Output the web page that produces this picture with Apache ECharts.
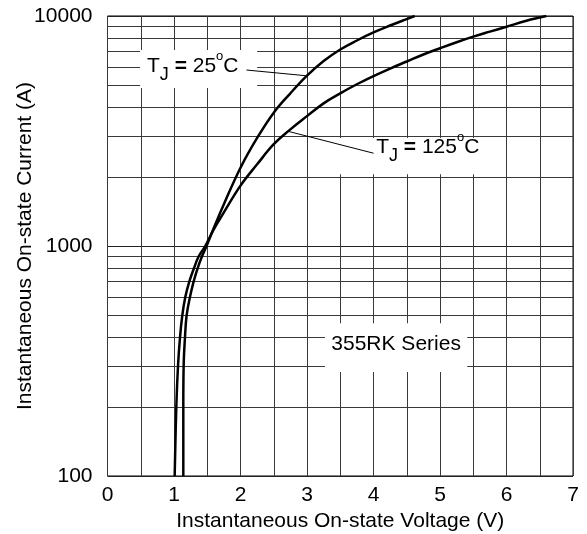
<!DOCTYPE html>
<html>
<head>
<meta charset="utf-8">
<script src="https://cdn.jsdelivr.net/npm/echarts@6/dist/echarts.min.js"></script>
<style>
  html, body { margin: 0; padding: 0; background: #fff; }
  #chart { width: 587px; height: 534px; }
</style>
</head>
<body>
<div id="chart"></div>
<script>
// on-state characteristic
var volt25 = [1.14, 1.14, 1.145, 1.165, 1.19, 1.24, 1.295, 1.355, 1.42, 1.49, 1.6, 1.75, 2.0, 2.25, 2.5, 2.75, 3.0, 3.25, 3.5, 3.75, 4.0, 4.25, 4.5, 4.62];
var amp25 = [100, 200, 300, 400, 500, 600, 700, 800, 900, 1000, 1200, 1520, 2190, 2950, 3800, 4610, 5500, 6370, 7150, 7825, 8480, 9090, 9700, 10000];

var volt125 = [1.01, 1.035, 1.06, 1.09, 1.125, 1.17, 1.23, 1.30, 1.37, 1.47, 1.6, 1.75, 2.0, 2.25, 2.5, 2.75, 3.0, 3.25, 3.5, 3.75, 4.0, 4.25, 4.5, 4.75, 5.0, 5.25, 5.5, 5.75, 6.0, 6.3, 6.6];
var amp125 = [100, 200, 300, 400, 500, 600, 700, 800, 900, 1000, 1185, 1400, 1830, 2265, 2770, 3213, 3670, 4170, 4610, 5050, 5480, 5910, 6340, 6800, 7240, 7690, 8130, 8550, 8980, 9540, 10000];

var xTicks = [0, 1, 2, 3, 4, 5, 6, 7];
var minorCurrent = [200, 300, 400, 500, 600, 700, 800, 900, 2000, 3000, 4000, 5000, 6000, 7000, 8000, 9000];

var FONT = 'Arial, "Liberation Sans", sans-serif';

function pairs(xs, ys) {
  return xs.map(function (x, i) { return [x, ys[i]]; });
}

var chart = echarts.init(document.getElementById('chart'));

chart.setOption({
  animation: false,
  backgroundColor: '#fff',
  grid: {
    left: 107.5,
    right: 14,
    top: 16,
    bottom: 58,
    outerBoundsMode: 'none',
    show: true,
    borderColor: '#000',
    borderWidth: 1
  },
  xAxis: {
    type: 'value',
    min: 0,
    max: 7,
    interval: 0.5,
    name: 'Instantaneous On-state Voltage (V)',
    nameLocation: 'middle',
    nameGap: 35,
    nameMoveOverlap: false,
    nameTextStyle: { color: '#000', fontSize: 21, fontFamily: FONT },
    axisLine: { show: false },
    axisTick: { show: false },
    axisLabel: {
      color: '#000',
      fontSize: 21,
      fontFamily: FONT,
      margin: 9,
      formatter: function (v) {
        return xTicks.indexOf(v) >= 0 ? String(v) : '';
      }
    },
    splitLine: { show: true, lineStyle: { color: '#3a3a3a', width: 1 } }
  },
  yAxis: {
    type: 'log',
    logBase: 10,
    min: 100,
    max: 10000,
    name: 'Instantaneous On-state Current (A)',
    nameLocation: 'middle',
    nameGap: 72,
    nameMoveOverlap: false,
    nameTextStyle: { color: '#000', fontSize: 21, fontFamily: FONT },
    axisLine: { show: false },
    axisTick: { show: false },
    axisLabel: {
      color: '#000',
      fontSize: 21,
      fontFamily: FONT,
      margin: 15,
      formatter: function (v) { return String(Math.round(v)); }
    },
    splitLine: { show: true, lineStyle: { color: '#222', width: 1 } }
  },
  series: [
    {
      // minor log grid lines
      type: 'line',
      data: [[0, 100]],
      symbol: 'none',
      lineStyle: { opacity: 0 },
      silent: true,
      z: 1,
      markLine: {
        silent: true,
        symbol: ['none', 'none'],
        label: { show: false },
        lineStyle: { color: '#3a3a3a', width: 1, type: 'solid' },
        data: minorCurrent.map(function (v) { return { yAxis: v }; })
      }
    },
    {
      name: 'TJ = 25',
      type: 'line',
      data: pairs(volt25, amp25),
      smooth: 0.4,
      showSymbol: false,
      z: 20,
      lineStyle: { color: '#000', width: 2.5 }
    },
    {
      name: 'TJ = 125',
      type: 'line',
      data: pairs(volt125, amp125),
      smooth: 0.4,
      showSymbol: false,
      z: 20,
      lineStyle: { color: '#000', width: 2.5 }
    }
  ]
});

// annotations, anchored in data coordinates
function px(v, a) {
  return chart.convertToPixel({ gridIndex: 0 }, [v, a]);
}

function box(v0, a0, v1, a1) {
  var p = px(v0, a0), q = px(v1, a1);
  return {
    type: 'rect',
    z: 10,
    shape: { x: p[0], y: p[1], width: q[0] - p[0], height: q[1] - p[1] },
    style: { fill: '#fff' }
  };
}

function leader(v0, a0, v1, a1) {
  var p = px(v0, a0), q = px(v1, a1);
  return {
    type: 'line',
    z: 12,
    shape: { x1: p[0], y1: p[1], x2: q[0], y2: q[1] },
    style: { stroke: '#000', lineWidth: 1 }
  };
}

var tjRich = {
  t: { fontSize: 21, fontFamily: FONT, lineHeight: 24, verticalAlign: 'top', padding: [6, 0, 0, 0], color: '#000' },
  eq: { fontSize: 21, fontFamily: FONT, fontWeight: 'bold', lineHeight: 24, verticalAlign: 'top', padding: [6, 0, 0, 0], color: '#000' },
  sub: { fontSize: 18, fontFamily: FONT, lineHeight: 18, verticalAlign: 'top', padding: [16, 0, 0, 0], color: '#000' },
  sup: { fontSize: 13, fontFamily: FONT, lineHeight: 13, verticalAlign: 'top', padding: [0, 0, 0, 0], color: '#000' }
};

function tjLabel(v, a, temp) {
  var p = px(v, a);
  return {
    type: 'text',
    z: 13,
    x: p[0],
    y: p[1],
    style: {
      text: '{t|T}{sub|J}{t| }{eq|=}{t| ' + temp + '}{sup|o}{t|C}',
      rich: tjRich,
      align: 'left',
      verticalAlign: 'top'
    }
  };
}

var seriesCenter = px(4.34, 375);

chart.setOption({
  graphic: [
    box(0.49, 7110, 2.25, 4864),
    leader(2.09, 5823, 2.98, 5500),
    tjLabel(0.594, 7110, '25'),

    box(3.35, 2950, 5.72, 2050),
    leader(2.72, 3150, 4.0, 2532),
    tjLabel(4.04, 3162, '125'),

    box(3.27, 462, 5.41, 283),
    {
      type: 'text',
      z: 13,
      x: seriesCenter[0],
      y: seriesCenter[1],
      style: {
        text: '355RK Series',
        fontSize: 21,
        fontFamily: FONT,
        fill: '#000',
        align: 'center',
        verticalAlign: 'middle'
      }
    }
  ]
});
</script>
</body>
</html>
